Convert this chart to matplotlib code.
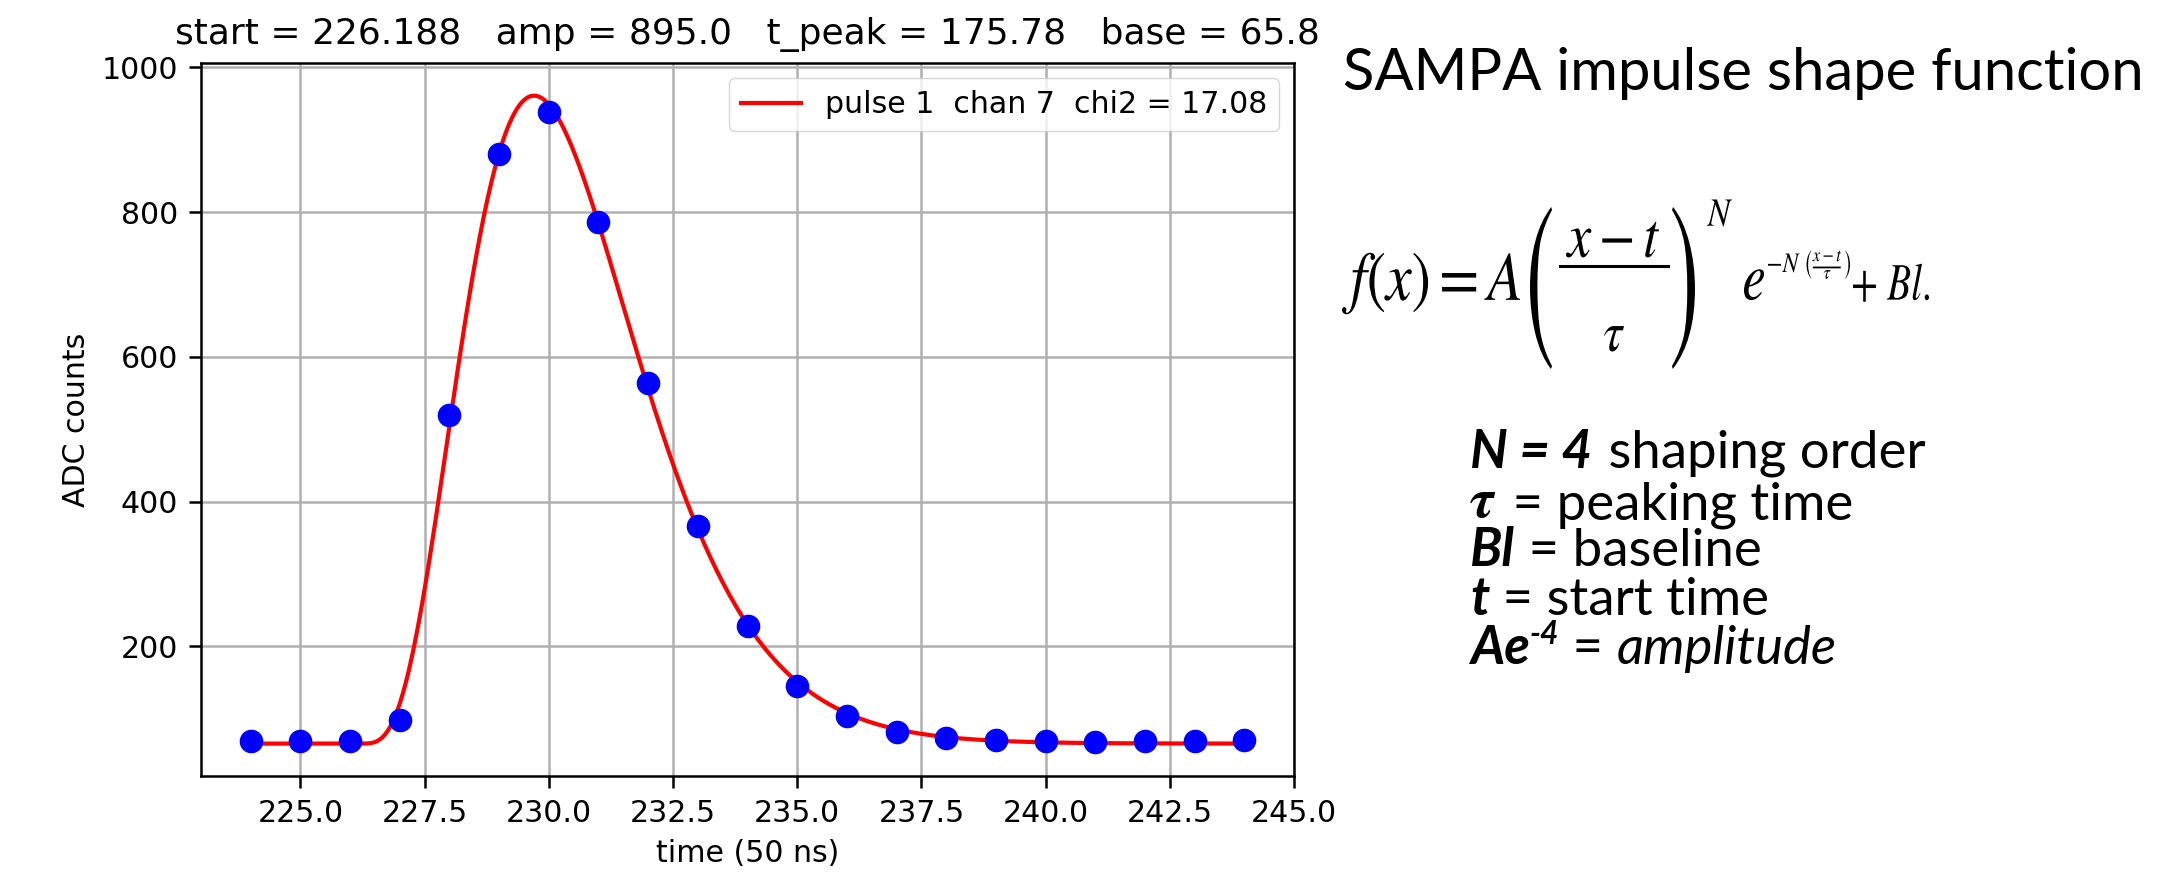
import numpy as np
import matplotlib
matplotlib.use('Agg')
import matplotlib.pyplot as plt
from matplotlib.ticker import MultipleLocator
from matplotlib.textpath import TextPath
from matplotlib.patches import PathPatch
from matplotlib.lines import Line2D
from matplotlib.transforms import Affine2D, IdentityTransform
from matplotlib.font_manager import FontProperties

W, H = 2159, 877

# ADC samples (one per 50 ns tick)
time = [224, 225, 226, 227, 228, 229, 230, 231, 232, 233, 234,
        235, 236, 237, 238, 239, 240, 241, 242, 243, 244]
adc = [70, 70, 70, 98, 520, 880, 938, 787, 564, 367, 228,
       145, 104, 82, 74, 70.5, 69.6, 68.3, 69, 69.6, 70.5]

# fit result shown in the title / legend
start = 226.188
amp = 895.0
t_peak = 175.78   # ns
base = 65.8
n_order = 4
pulse, chan, chi2 = 1, 7, 17.08


def sampa(x):
    tau = t_peak / 50.0
    u = np.clip((x - start) / tau, 0, None)
    return amp * np.exp(n_order) * u**n_order * np.exp(-n_order * u) + base


fig = plt.figure(figsize=(W / 100, H / 100), dpi=100)
ax = fig.add_axes([201 / W, 1 - 776 / H, (1294 - 201) / W, (776 - 63.3) / H])

x_fit = np.linspace(time[0], time[-1], 500)
ax.plot(x_fit, sampa(x_fit), color='red', linewidth=3,
        label=f'pulse {pulse}  chan {chan}  chi2 = {chi2}')
ax.plot(time, adc, 'o', color='blue', markersize=16)

ax.xaxis.set_major_locator(MultipleLocator(2.5))
ax.yaxis.set_major_locator(MultipleLocator(200))
ax.grid(True, color='#b0b0b0', linewidth=1.8)
for s in ax.spines.values():
    s.set_linewidth(1.8)
ax.tick_params(labelsize=21.6, length=8.4, width=1.8, pad=8)
ax.set_xlabel('time (50 ns)', fontsize=21.6, labelpad=8)
ax.set_ylabel('ADC counts', fontsize=21.6, labelpad=8)
ax.set_title(f'start = {start}   amp = {amp}   t_peak = {t_peak}   base = {base}',
             fontsize=25.9, pad=14)
ax.legend(loc='upper right', fontsize=21.6)

# ---- slide text on the right ----
tx = fig.add_axes([0, 0, 1, 1])
tx.set_axis_off()
r = fig.canvas.get_renderer()

head = tx.text(1343 / W, 1 - 90 / H, 'SAMPA impulse shape function',
               family='Lato', fontsize=40, va='baseline', ha='left')
w = head.get_window_extent(r).width
head.set_fontsize(40 * 800 / w)

# formula, drawn piece by piece (pixel positions, y measured from the top)
stix = FontProperties(family='STIXGeneral', math_fontfamily='stix')


def add_path(tp, tr):
    fig.add_artist(PathPatch(tr.transform_path(tp), fc='black', ec='none',
                             transform=IdentityTransform()))


def math_piece(s, x0, width, ybase, stretch=1.2):
    tp = TextPath((0, 0), s, size=100, prop=stix)
    e = tp.get_extents()
    k = width / e.width
    add_path(tp, Affine2D().translate(-e.x0, 0).scale(k, k * stretch).translate(x0, H - ybase))


def box_piece(s, x0, x1, ytop, ybot):
    tp = TextPath((0, 0), s, size=100, prop=stix)
    e = tp.get_extents()
    tr = (Affine2D().translate(-e.x0, -e.y0)
          .scale((x1 - x0) / e.width, (ybot - ytop) / e.height)
          .translate(x0, H - ybot))
    add_path(tp, tr)


math_piece(r'$f(x) = A$', 1342, 178, 300)
box_piece('(', 1530, 1552, 207, 369)
math_piece(r'$x - t$', 1566, 93, 257)
fig.add_artist(Line2D([1560, 1668], [H - 266, H - 266], color='black',
                      linewidth=2.2, transform=IdentityTransform()))
math_piece(r'$\tau$', 1604, 20, 351)
box_piece(')', 1672, 1695, 207, 369)
math_piece(r'$N$', 1707, 25, 226)
math_piece(r'$e$', 1744, 20, 300, stretch=1.3)
math_piece(r'$-N\ \left(\frac{x-t}{\tau}\right)$', 1768, 82, 272)
math_piece(r'$+\ Bl.$', 1853, 76, 300, stretch=1.35)

# legend of symbols
fs = head.get_fontsize() * 0.91
bi = dict(family='Lato', fontweight='bold', fontstyle='italic', fontsize=fs)
rg = dict(family='Lato', fontsize=fs)
it = dict(family='Lato', fontstyle='italic', fontsize=fs)
tau_p = dict(family='STIXGeneral', fontweight='bold', fontstyle='italic', fontsize=fs * 1.05)
sup = dict(family='Lato', fontweight='bold', fontstyle='italic', fontsize=fs * 0.6)

lines = [
    [('N = 4', bi, 0, 0), (' shaping order', rg, 2, 0)],
    [('\u03c4', tau_p, 0, 0), (' = peaking time', rg, 4, 0)],
    [('Bl', bi, 0, 0), (' = baseline', rg, 0, 0)],
    [('t', bi, 0, 0), (' = start time', rg, 0, 0)],
    [('Ae', bi, 0, 0), ('-4', sup, 0, 0.45 * fs), (' = ', rg, 0, 0), ('amplitude', it, 0, 0)],
]
baselines = [468, 517, 566, 615, 664]

for pieces, yb in zip(lines, baselines):
    s0, p0, _, _ = pieces[0]
    prev = tx.text(1470 / W, 1 - yb / H, s0, va='baseline', ha='left', **p0)
    for s, p, dx, dy in pieces[1:]:
        prev = tx.annotate(s, xy=(1, 0), xycoords=prev, xytext=(dx, dy),
                           textcoords='offset points', va='bottom', ha='left', **p)
        if dy:
            # back down to the baseline after the superscript
            prev = tx.annotate('', xy=(1, 0), xycoords=prev, xytext=(0, -dy),
                               textcoords='offset points', va='bottom', ha='left', **rg)

fig.savefig('out.png', dpi=100)
